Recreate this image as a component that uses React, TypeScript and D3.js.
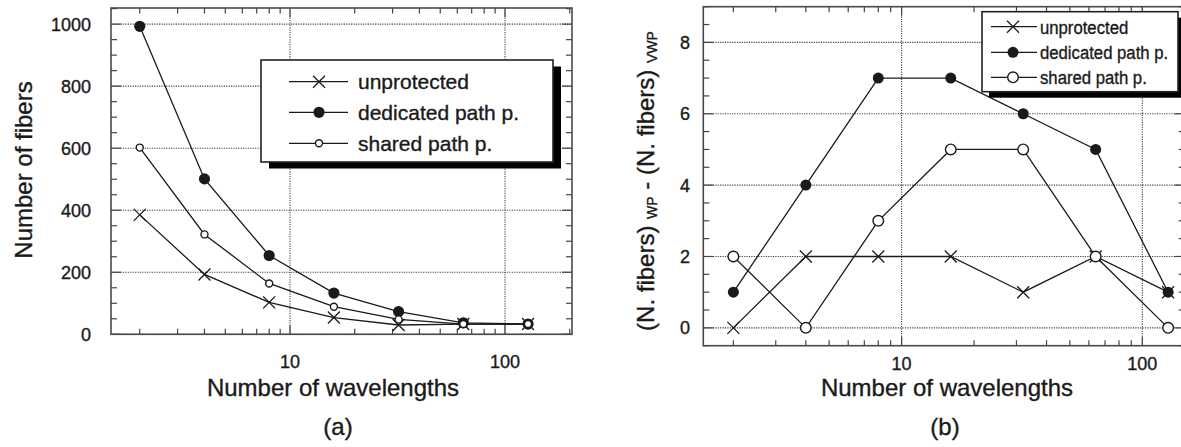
import * as d3 from 'd3'
import { useEffect, useRef } from 'react'

const width = 1181, height = 447
const font = '"Liberation Sans", Arial, Helvetica, sans-serif'

// shared x values and legend names
const wavelengths = [2, 4, 8, 16, 32, 64, 128]
const seriesNames = ['unprotected', 'dedicated path p.', 'shared path p.']
const xTickLabels = [10, 100]

// (a) number of fibers
const fibersUnprotected = [385, 193, 103, 54, 30, 33, 33]
const fibersDedicated = [993, 501, 254, 133, 73, 37, 33]
const fibersShared = [602, 322, 164, 89, 48, 33, 33]
const fibersTicks = [0, 200, 400, 600, 800, 1000]

// (b) (N. fibers) WP - (N. fibers) VWP
const diffUnprotected = [0, 2, 2, 2, 1, 2, 1]
const diffDedicated = [1, 4, 7, 7, 6, 5, 1]
const diffShared = [2, 0, 3, 5, 5, 2, 0]
const diffTicks = [0, 2, 4, 6, 8]

const markers = ['x', 'dot', 'ring']
const ink = '#1a1a1a'

const panels = [
  {
    left: 111, right: 572, top: 8, bottom: 334.3,
    xDomain: [1.47, 205], yDomain: [0, 1052],
    yTicks: fibersTicks, yMinor: 50,
    series: [fibersUnprotected, fibersDedicated, fibersShared],
    mark: { x: 6, dot: 5.6, ring: 3.5 },
    yLabelX: 91, xLabelY: 368,
    xTitle: { x: 333, y: 396 }, tag: { text: '(a)', x: 338, y: 435 },
    legend: { x: 261, y: 60, w: 292, h: 102, sx: 8, sy: 6.5, rows: [81.7, 112.3, 143.3],
      l0: 289, l1: 348, mx: 319, tx: 358, fs: 21, squeeze: 1 },
  },
  {
    left: 703.3, right: 1184.7, top: 6.7, bottom: 345.7,
    xDomain: [1.5, 150], yDomain: [-0.5, 9],
    yTicks: diffTicks, yMinor: 0.5,
    series: [diffUnprotected, diffDedicated, diffShared],
    mark: { x: 6, dot: 5.5, ring: 5.3 },
    yLabelX: 690, xLabelY: 369.5,
    xTitle: { x: 947, y: 396 }, tag: { text: '(b)', x: 945, y: 435 },
    legend: { x: 982, y: 11.7, w: 196, h: 80, sx: 7, sy: 6, rows: [26.7, 52.3, 77.3],
      l0: 991, l1: 1037, mx: 1013, tx: 1040, fs: 19, squeeze: 0.88 },
  },
]

// scanned text looks a touch heavier than plain Arial
const heavy = (sel) => sel.attr('stroke', ink).attr('stroke-width', 0.35)

const drawMarker = (g, kind, x, y, size) => {
  if (kind === 'x') {
    const s = size.x
    g.append('path')
      .attr('d', `M${x - s},${y - s}L${x + s},${y + s}M${x - s},${y + s}L${x + s},${y - s}`)
      .attr('stroke', ink).attr('stroke-width', 1.3).attr('fill', 'none')
  } else if (kind === 'dot') {
    g.append('circle').attr('cx', x).attr('cy', y).attr('r', size.dot).attr('fill', ink)
  } else {
    g.append('circle').attr('cx', x).attr('cy', y).attr('r', size.ring)
      .attr('fill', 'white').attr('stroke', ink).attr('stroke-width', 1.4)
  }
}

const drawPanel = (svg, p) => {
  const x = d3.scaleLog().domain(p.xDomain).range([p.left, p.right])
  const y = d3.scaleLinear().domain(p.yDomain).range([p.bottom, p.top])
  const g = svg.append('g')

  // grid
  const grid = g.append('g').attr('stroke', '#444').attr('stroke-width', 1.1).attr('stroke-dasharray', '1.2 1.2')
  p.yTicks.forEach(t => {
    grid.append('line').attr('x1', p.left).attr('x2', p.right).attr('y1', y(t)).attr('y2', y(t))
  })
  xTickLabels.forEach(t => {
    grid.append('line').attr('x1', x(t)).attr('x2', x(t)).attr('y1', p.top).attr('y2', p.bottom)
  })

  // ticks, inward on all four sides
  const ticks = g.append('g').attr('stroke', '#444').attr('stroke-width', 1.2)
  x.ticks().forEach(t => {
    const major = Math.abs(Math.log10(t) - Math.round(Math.log10(t))) < 1e-9
    const len = major ? 9 : 5.5
    ticks.append('line').attr('x1', x(t)).attr('x2', x(t)).attr('y1', p.bottom).attr('y2', p.bottom - len)
    ticks.append('line').attr('x1', x(t)).attr('x2', x(t)).attr('y1', p.top).attr('y2', p.top + len)
  })
  d3.range(p.yDomain[0], p.yDomain[1] + 1e-9, p.yMinor).forEach(t => {
    const major = p.yTicks.includes(Math.round(t * 1000) / 1000)
    const len = major ? 10 : 6
    ticks.append('line').attr('x1', p.left).attr('x2', p.left + len).attr('y1', y(t)).attr('y2', y(t))
    ticks.append('line').attr('x1', p.right).attr('x2', p.right - len).attr('y1', y(t)).attr('y2', y(t))
  })

  // series
  const line = d3.line().x(d => x(d[0])).y(d => y(d[1]))
  p.series.forEach(vals => {
    g.append('path')
      .attr('d', line(wavelengths.map((w, i) => [w, vals[i]])))
      .attr('fill', 'none').attr('stroke', ink).attr('stroke-width', 1.3)
  })
  p.series.forEach((vals, si) => {
    vals.forEach((v, i) => drawMarker(g, markers[si], x(wavelengths[i]), y(v), p.mark))
  })

  // frame
  g.append('rect')
    .attr('x', p.left).attr('y', p.top)
    .attr('width', p.right - p.left).attr('height', p.bottom - p.top)
    .attr('fill', 'none').attr('stroke', '#4a4a4a').attr('stroke-width', 1.6)

  // tick labels
  const labels = g.append('g').attr('font-family', font).attr('font-size', 18).attr('fill', ink)
  heavy(labels)
  p.yTicks.forEach(t => {
    labels.append('text').attr('x', p.yLabelX).attr('y', y(t) + 6.5)
      .attr('text-anchor', 'end').text(t)
  })
  xTickLabels.forEach(t => {
    labels.append('text').attr('x', x(t)).attr('y', p.xLabelY)
      .attr('text-anchor', 'middle').text(t)
  })

  const titles = g.append('g').attr('font-family', font).attr('font-size', 24).attr('fill', ink)
  heavy(titles)
  titles.append('text').attr('x', p.xTitle.x).attr('y', p.xTitle.y)
    .attr('text-anchor', 'middle').text('Number of wavelengths')
  titles.append('text').attr('x', p.tag.x).attr('y', p.tag.y)
    .attr('text-anchor', 'middle').text(p.tag.text)

  // legend
  const L = p.legend
  const lg = g.append('g')
  lg.append('rect').attr('x', L.x + L.sx).attr('y', L.y + L.sy)
    .attr('width', L.w).attr('height', L.h).attr('fill', '#000')
  lg.append('rect').attr('x', L.x).attr('y', L.y)
    .attr('width', L.w).attr('height', L.h)
    .attr('fill', 'white').attr('stroke', '#222').attr('stroke-width', 1.6)
  seriesNames.forEach((name, i) => {
    const ry = L.rows[i]
    lg.append('line').attr('x1', L.l0).attr('x2', L.l1).attr('y1', ry).attr('y2', ry)
      .attr('stroke', ink).attr('stroke-width', 1.2)
    drawMarker(lg, markers[i], L.mx, ry, p.mark)
    lg.append('text')
      .attr('transform', `translate(${L.tx},${ry + L.fs * 0.36}) scale(${L.squeeze},1)`)
      .attr('font-family', font).attr('font-size', L.fs).attr('fill', ink)
      .call(heavy)
      .text(name)
  })
}

const chart = (svgNode) => {
  const svg = d3.select(svgNode)
  svg.selectAll('*').remove()
  panels.forEach(p => drawPanel(svg, p))

  // y axis titles
  svg.append('text')
    .attr('transform', 'translate(32,170) rotate(-90)')
    .attr('font-family', font).attr('font-size', 24).attr('fill', ink)
    .attr('text-anchor', 'middle')
    .call(heavy)
    .text('Number of fibers')

  const t = svg.append('text')
    .attr('transform', 'translate(654,181) rotate(-90)')
    .attr('font-family', font).attr('font-size', 24).attr('fill', ink)
    .attr('text-anchor', 'middle')
    .call(heavy)
  t.append('tspan').text('(N. fibers) ')
  t.append('tspan').attr('font-size', 14).attr('dy', 3).text('WP')
  t.append('tspan').attr('dy', -3).text(' - (N. fibers) ')
  t.append('tspan').attr('font-size', 14).attr('dy', 3).text('VWP')
}

export default function App() {
  const svg = useRef(null)
  useEffect(() => {
    if (svg.current) chart(svg.current)
  }, [])
  return (
    <svg ref={svg} width={width} height={height}
      style={{ position: 'absolute', left: 0, top: 0, background: 'white' }} />
  )
}
